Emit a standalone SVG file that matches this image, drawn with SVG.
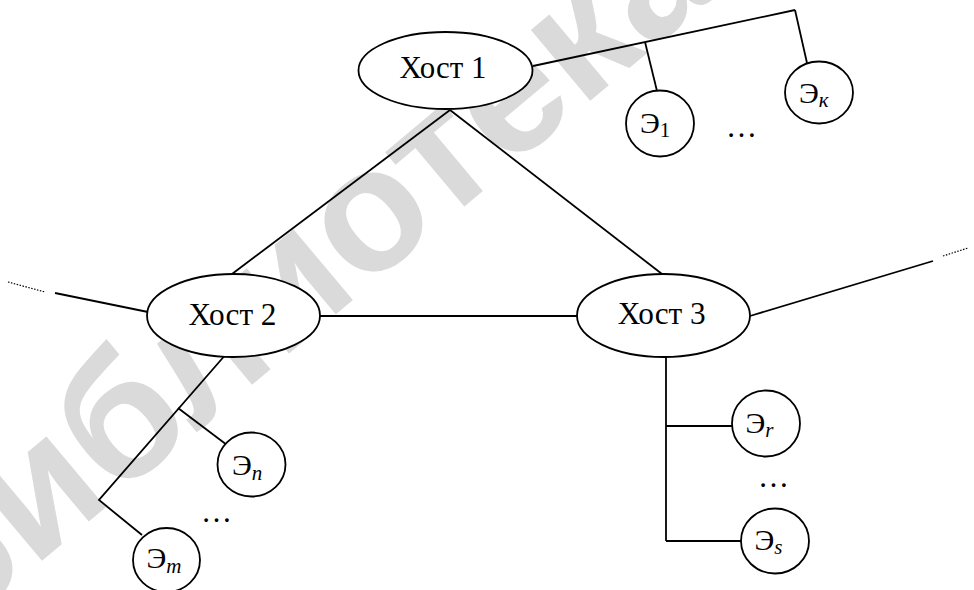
<svg xmlns="http://www.w3.org/2000/svg" width="974" height="590" viewBox="0 0 974 590">
<style>
.wm{font-family:"Liberation Sans",Arial,sans-serif;font-weight:bold;font-size:175px;fill:#dadada}
.node{fill:#fff;stroke:#000;stroke-width:1.8}
.ln{fill:none;stroke:#000;stroke-width:1.8}
.dot{fill:none;stroke:#000;stroke-width:1.2;stroke-dasharray:1.5 1.5}
.host{font-family:"Liberation Serif","Times New Roman",serif;font-size:31px;fill:#000}
.el{font-family:"Liberation Serif","Times New Roman",serif;font-size:30px;fill:#000}
.sub{font-size:21px}
.it{font-style:italic}
.dots{font-family:"Liberation Serif","Times New Roman",serif;font-size:31px;fill:#000}
</style>
<rect width="974" height="590" fill="#fff"/>
<g id="watermark">
<text class="wm" x="-50" y="638" transform="rotate(-40 -50 638)">библиотека</text>
</g>
<g id="connectors">
<line class="ln" x1="533" y1="66" x2="795" y2="10"/>
<line class="ln" x1="645" y1="42" x2="657" y2="91"/>
<line class="ln" x1="795" y1="10" x2="807" y2="63"/>
<line class="ln" x1="450" y1="110" x2="232" y2="274"/>
<line class="ln" x1="450" y1="110" x2="662" y2="274"/>
<line class="ln" x1="320" y1="316" x2="577" y2="316"/>
<line class="ln" x1="55" y1="293" x2="148" y2="312"/>
<line class="dot" x1="8" y1="282" x2="45" y2="292"/>
<line class="ln" x1="750" y1="316" x2="933" y2="261"/>
<line class="dot" x1="943" y1="256" x2="968" y2="248"/>
<polyline class="ln" points="227,353 99,500 142,535"/>
<line class="ln" x1="178" y1="408" x2="227" y2="445"/>
<line class="ln" x1="666" y1="357" x2="666" y2="541"/>
<line class="ln" x1="666" y1="426" x2="732" y2="426"/>
<line class="ln" x1="666" y1="541" x2="741" y2="541"/>
</g>
<g id="host1">
<ellipse class="node" cx="445.5" cy="70.5" rx="87" ry="38.5"/>
<text class="host" x="443" y="78" text-anchor="middle" textLength="87" lengthAdjust="spacingAndGlyphs">Хост 1</text>
</g>
<g id="host2">
<ellipse class="node" cx="233.5" cy="315.5" rx="86.5" ry="41.5"/>
<text class="host" x="232.5" y="324.5" text-anchor="middle" textLength="88" lengthAdjust="spacingAndGlyphs">Хост 2</text>
</g>
<g id="host3">
<ellipse class="node" cx="663.5" cy="315.5" rx="86.5" ry="41.5"/>
<text class="host" x="661.7" y="324" text-anchor="middle" textLength="88" lengthAdjust="spacingAndGlyphs">Хост 3</text>
</g>
<g id="e1">
<ellipse class="node" cx="660" cy="123.5" rx="34" ry="33"/>
<text class="el" x="640" y="132.7">Э<tspan class="sub" dy="4.5">1</tspan></text>
</g>
<g id="ek">
<ellipse class="node" cx="819" cy="92.5" rx="34" ry="31"/>
<text class="el" x="799" y="103.3">Э<tspan class="sub it" dy="4">к</tspan></text>
</g>
<g id="en">
<ellipse class="node" cx="251.5" cy="464.5" rx="34" ry="32"/>
<text class="el" x="232" y="475">Э<tspan class="sub it" dy="5">n</tspan></text>
</g>
<g id="em">
<ellipse class="node" cx="166.5" cy="560" rx="33.5" ry="32"/>
<text class="el" x="146.5" y="568.3">Э<tspan class="sub it" dy="5">m</tspan></text>
</g>
<g id="er">
<ellipse class="node" cx="766" cy="423.5" rx="34" ry="33"/>
<text class="el" x="745.5" y="433.3">Э<tspan class="sub it" dy="4">r</tspan></text>
</g>
<g id="es">
<ellipse class="node" cx="775" cy="541" rx="34" ry="32.5"/>
<text class="el" x="754.5" y="550">Э<tspan class="sub it" dy="4">s</tspan></text>
</g>
<g id="ellipsis-marks">
<text class="dots" x="726" y="137">…</text>
<text class="dots" x="201" y="522">…</text>
<text class="dots" x="758" y="487">…</text>
</g>
</svg>
